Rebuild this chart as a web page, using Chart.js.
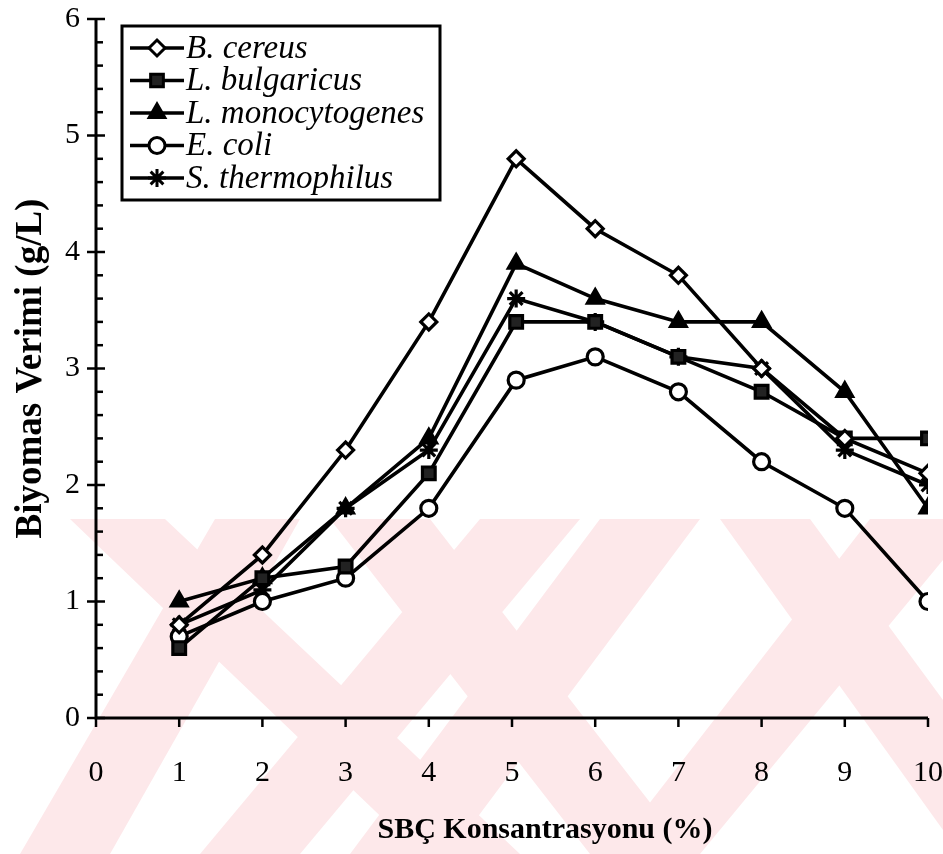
<!DOCTYPE html>
<html>
<head>
<meta charset="utf-8">
<script src="https://cdn.jsdelivr.net/npm/chart.js@4.4.1/dist/chart.umd.min.js"></script>
<style>
html,body{margin:0;padding:0;background:#fff;}
#wrap{width:943px;height:854px;position:relative;}
</style>
</head>
<body>
<div id="wrap"><canvas id="c" width="943" height="854"></canvas></div>
<script>
// ---- data ----
const xValues = [1, 2, 3, 4, 5.05, 6, 7, 8, 9, 10];
const seriesNames = ['B. cereus', 'L. bulgaricus', 'L. monocytogenes', 'E. coli', 'S. thermophilus'];
const bCereus = [0.8, 1.4, 2.3, 3.4, 4.8, 4.2, 3.8, 3.0, 2.4, 2.1];
const lBulgaricus = [0.6, 1.2, 1.3, 2.1, 3.4, 3.4, 3.1, 2.8, 2.4, 2.4];
const lMonocytogenes = [1.0, 1.2, 1.8, 2.4, 3.9, 3.6, 3.4, 3.4, 2.8, 1.8];
const eColi = [0.7, 1.0, 1.2, 1.8, 2.9, 3.1, 2.8, 2.2, 1.8, 1.0];
const sThermophilus = [0.8, 1.1, 1.8, 2.3, 3.6, 3.4, 3.1, 3.0, 2.3, 2.0];
const xTicks = [0,1,2,3,4,5,6,7,8,9,10];
const yTicks = [0,1,2,3,4,5,6];
const xTitle = 'SBÇ Konsantrasyonu (%)';
const yTitle = 'Biyomas Verimi (g/L)';

const FONT = "'Liberation Serif', 'Times New Roman', serif";
const pts = arr => arr.map((v, i) => ({x: xValues[i], y: v}));

const styles = [
  {pointStyle: 'rectRot', bg: '#fff', r: 8},
  {pointStyle: 'rect', bg: '#222', r: 9},
  {pointStyle: 'triangle', bg: '#000', r: 9},
  {pointStyle: 'circle', bg: '#fff', r: 8},
  {pointStyle: 'star', bg: '#000', r: 9}
];
const allSeries = [bCereus, lBulgaricus, lMonocytogenes, eColi, sThermophilus];
const datasets = allSeries.map((s, i) => ({
  label: seriesNames[i],
  data: pts(s),
  borderColor: '#000',
  borderWidth: 3.6,
  backgroundColor: styles[i].bg,
  pointStyle: styles[i].pointStyle,
  pointRadius: styles[i].r,
  pointBorderWidth: 3.2,
  pointBorderColor: '#000',
  pointBackgroundColor: styles[i].bg,
  tension: 0,
  fill: false
}));

// pale pink watermark-like background bands (decoration)
const watermark = {
  id: 'watermark',
  beforeDraw(chart) {
    const ctx = chart.ctx;
    ctx.save();
    ctx.beginPath();
    ctx.rect(0, 519, 943, 335);
    ctx.clip();
    ctx.fillStyle = '#fde8ea';
    const bands = [
      [[70,519],[165,519],[520,854],[420,854]],
      [[215,519],[300,519],[110,854],[20,854]],
      [[330,519],[430,519],[690,854],[590,854]],
      [[480,519],[580,519],[300,854],[200,854]],
      [[600,519],[700,519],[450,854],[350,854]],
      [[720,519],[810,519],[943,700],[943,830]],
      [[870,519],[943,519],[943,560],[700,854],[610,854]]
    ];
    bands.forEach(b => {
      ctx.beginPath();
      ctx.moveTo(b[0][0], b[0][1]);
      for (let k = 1; k < b.length; k++) ctx.lineTo(b[k][0], b[k][1]);
      ctx.closePath();
      ctx.fill();
    });
    ctx.restore();
  }
};

// axes lines, ticks and x title
const axes = {
  id: 'axesDraw',
  afterDatasetsDraw(chart) {
    const ctx = chart.ctx;
    const xs = chart.scales.x, ys = chart.scales.y;
    const x0 = xs.getPixelForValue(0), x1 = xs.getPixelForValue(10);
    const y0 = ys.getPixelForValue(0), y1 = ys.getPixelForValue(6);
    ctx.save();
    ctx.strokeStyle = '#000';
    ctx.lineWidth = 3;
    ctx.beginPath();
    ctx.moveTo(x0, y1); ctx.lineTo(x0, y0); ctx.lineTo(x1, y0);
    ctx.stroke();
    ctx.lineWidth = 2.5;
    for (let v = 0; v <= 30; v++) {
      const y = ys.getPixelForValue(v / 5);
      ctx.beginPath();
      if (v % 5 === 0) { ctx.moveTo(x0 - 9, y); ctx.lineTo(x0 + 9, y); }
      else { ctx.moveTo(x0, y); ctx.lineTo(x0 + 7, y); }
      ctx.stroke();
    }
    xTicks.forEach(t => {
      const x = xs.getPixelForValue(t);
      ctx.beginPath(); ctx.moveTo(x, y0); ctx.lineTo(x, y0 + 9); ctx.stroke();
    });
    ctx.fillStyle = '#000';
    ctx.font = "bold 30px " + FONT;
    ctx.textAlign = 'center';
    ctx.textBaseline = 'middle';
    ctx.fillText(xTitle, 545, 830);
    ctx.restore();
  }
};

// legend box
const legendBox = {
  id: 'legendBox',
  afterDraw(chart) {
    const ctx = chart.ctx;
    const bx = 122, by = 26, bw = 318, bh = 174;
    ctx.save();
    ctx.fillStyle = '#fff';
    ctx.fillRect(bx, by, bw, bh);
    ctx.strokeStyle = '#000';
    ctx.lineWidth = 3;
    ctx.strokeRect(bx, by, bw, bh);
    ctx.font = "italic 33px " + FONT;
    ctx.textBaseline = 'middle';
    chart.data.datasets.forEach((ds, i) => {
      const y = by + 22 + i * 32.5;
      ctx.strokeStyle = '#000';
      ctx.lineWidth = 3.4;
      ctx.beginPath(); ctx.moveTo(bx + 8, y); ctx.lineTo(bx + 62, y); ctx.stroke();
      ctx.save();
      ctx.fillStyle = ds.pointBackgroundColor;
      ctx.strokeStyle = '#000';
      ctx.lineWidth = 3;
      Chart.helpers.drawPoint(ctx, {
        pointStyle: ds.pointStyle, radius: ds.pointRadius, borderWidth: 3, rotation: 0
      }, bx + 35, y);
      ctx.restore();
      ctx.fillStyle = '#000';
      ctx.fillText(ds.label, bx + 64, y + 1);
    });
    ctx.restore();
  }
};

new Chart(document.getElementById('c'), {
  type: 'line',
  data: { datasets },
  options: {
    responsive: false,
    animation: false,
    layout: { padding: { top: 19, right: 15, left: 0, bottom: 0 } },
    plugins: { legend: { display: false }, tooltip: { enabled: false } },
    scales: {
      x: {
        type: 'linear', min: 0, max: 10,
        afterBuildTicks: s => { s.ticks = xTicks.map(v => ({value: v})); },
        afterFit: s => { s.height = 136; s.paddingLeft = 0; s.paddingRight = 0; },
        grid: { display: false, drawTicks: false },
        border: { display: false },
        ticks: { color: '#000', font: { family: FONT, size: 30 }, padding: 37, maxRotation: 0, autoSkip: false },
        title: { display: false }
      },
      y: {
        type: 'linear', min: 0, max: 6,
        afterBuildTicks: s => { s.ticks = yTicks.map(v => ({value: v})); },
        afterFit: s => { s.width = 96; s.paddingTop = 0; s.paddingBottom = 0; },
        grid: { display: false, drawTicks: false },
        border: { display: false },
        ticks: { color: '#000', font: { family: FONT, size: 30 }, padding: 16 },
        title: { display: true, text: yTitle, color: '#000', font: { family: FONT, size: 37, weight: 'bold' }, padding: { top: 9, bottom: 0 } }
      }
    }
  },
  plugins: [watermark, axes, legendBox]
});
</script>
</body>
</html>
